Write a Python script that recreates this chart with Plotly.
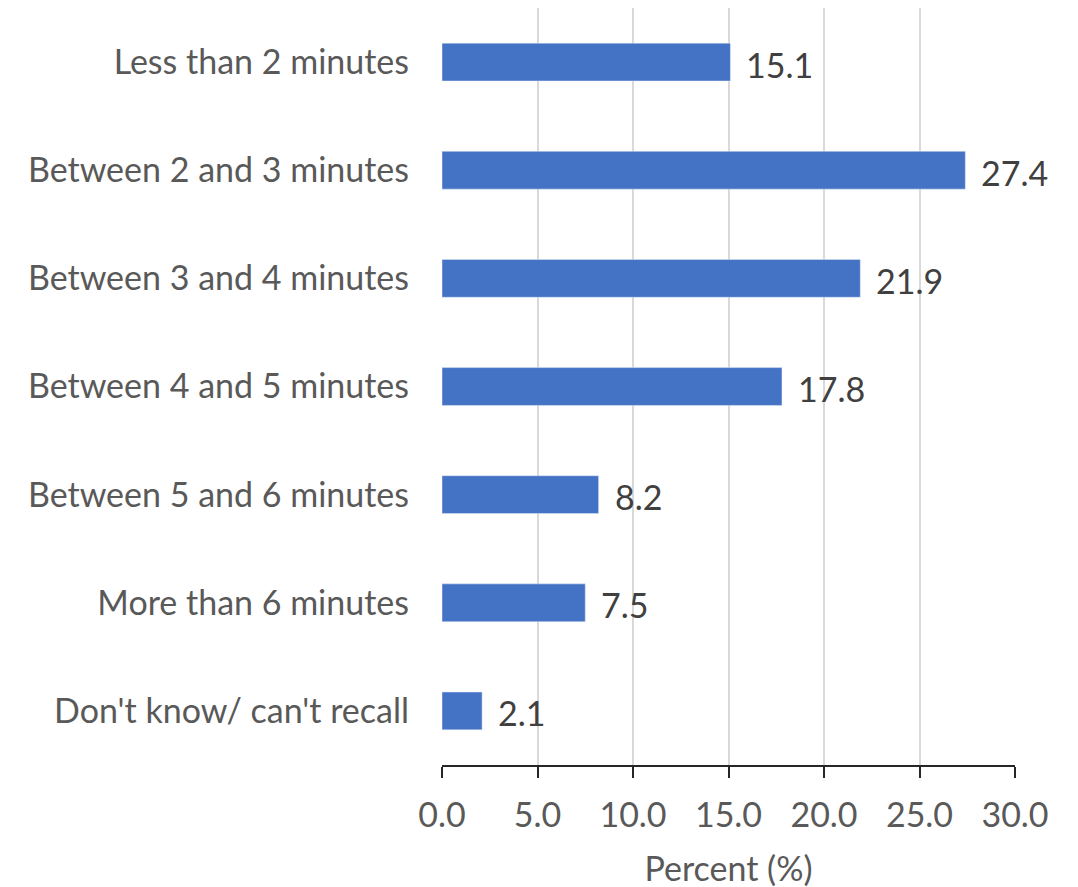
import plotly.graph_objects as go

categories = ["Less than 2 minutes", "Between 2 and 3 minutes", "Between 3 and 4 minutes",
              "Between 4 and 5 minutes", "Between 5 and 6 minutes", "More than 6 minutes",
              "Don't know/ can't recall"]
values = [15.1, 27.4, 21.9, 17.8, 8.2, 7.5, 2.1]
x_ticks = [0, 5, 10, 15, 20, 25, 30]

FONT = "Lato"
FS = 34

fig = go.Figure(go.Bar(
    x=values, y=categories, orientation="h",
    marker=dict(color="#4472C4"),
    width=0.35,
))

for v, c in zip(values, categories):
    fig.add_annotation(x=v, y=c, text=f"{v:.1f}", showarrow=False,
                       xanchor="left", yanchor="middle", xshift=14, yshift=-2,
                       font=dict(family=FONT, size=FS, color="#404040"))

fig.update_layout(
    width=1078, height=887,
    margin=dict(l=434, r=71, t=0, b=130),
    plot_bgcolor="white", paper_bgcolor="white",
    showlegend=False,
    font=dict(family=FONT, size=FS, color="#595959"),
    xaxis=dict(range=[0, 30], tickvals=x_ticks, ticktext=[f"{t:.1f}" for t in x_ticks],
               showgrid=True, gridcolor="#D9D9D9", gridwidth=2,
               showline=True, linecolor="#262626", linewidth=2,
               ticks="outside", ticklen=11, tickcolor="#262626", tickwidth=2,
               ticklabelstandoff=8,
               zeroline=False,
               title=dict(text="Percent (%)", standoff=24, font=dict(size=FS, color="#595959")),
               tickfont=dict(size=FS, color="#595959")),
    yaxis=dict(categoryorder="array", categoryarray=categories[::-1],
               showgrid=False, showline=False, zeroline=False,
               ticks="", ticklabelstandoff=32,
               tickfont=dict(size=FS, color="#595959")),
)

fig.write_html("out.html")
